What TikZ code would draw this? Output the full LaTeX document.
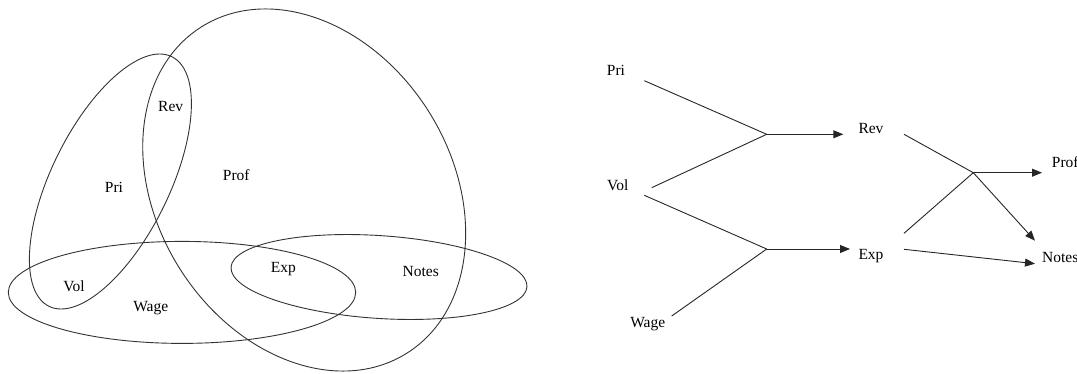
\documentclass[tikz,border=0pt]{standalone}
\usepackage{fontspec}
\setmainfont{Liberation Serif}
\usetikzlibrary{arrows.meta}
\begin{document}
\begin{tikzpicture}[x=1pt,y=1pt,
  lbl/.style={inner sep=0pt,anchor=base,font=\fontsize{15.5}{18}\selectfont},
  lblw/.style={inner sep=0pt,anchor=base west,font=\fontsize{15.5}{18}\selectfont},
  set/.style={draw=black!80,line width=0.9pt},
  conn/.style={draw=black!85,line width=0.9pt},
  arr/.style={conn,-{Triangle[length=10pt,width=8pt]}}]
\useasboundingbox (0,0) rectangle (1077,373);
% ---------- left: Venn-type diagram ----------
\draw[set] (304.2,183) ellipse[x radius=147.2,y radius=192.8,rotate=32.2];
\draw[set] (110.4,191.5) ellipse[x radius=58.9,y radius=139.1,rotate=-26.2];
\draw[set] (182,80.6) ellipse[x radius=173.7,y radius=51];
\draw[set] (379,96) ellipse[x radius=148.3,y radius=41.4,rotate=-3.8];
\node[lbl] (lrev) at (170.7,261.3) {Rev};
\node[lbl] (lpri) at (114,180.2) {Pri};
\node[lbl] (lprof) at (236.3,192.8) {Prof};
\node[lbl] (lvol) at (74,82) {Vol};
\node[lbl] (lwage) at (150.7,62) {Wage};
\node[lbl] (lexp) at (283.3,100.3) {Exp};
\node[lbl] (lnotes) at (420.7,97) {Notes};
% ---------- right: flow diagram ----------
\node[lbl] (pri) at (616,297) {Pri};
\node[lbl] (vol) at (617.7,182.3) {Vol};
\node[lbl] (wage) at (647.7,45.3) {Wage};
\node[lbl] (rev) at (871,239.7) {Rev};
\node[lbl] (exp) at (871,113.7) {Exp};
\node[lblw] (prof) at (1051.7,205.3) {Prof};
\node[lblw] (notes) at (1042,110.5) {Notes};
\coordinate (priE) at (644.3,292.3);
\coordinate (volU) at (651.7,185.3);
\coordinate (volD) at (644.3,177.7);
\coordinate (wageE) at (671.7,57);
\coordinate (j1) at (766.7,238.7);
\coordinate (j2) at (766.7,124);
\coordinate (revT) at (843.3,238.7);
\coordinate (expT) at (850,124);
\coordinate (revO) at (904,238.7);
\coordinate (expU) at (904,139.7);
\coordinate (expO) at (904,123.7);
\coordinate (j3) at (973.3,200.3);
\coordinate (profT) at (1042,200.3);
\coordinate (notesT1) at (1035,132.3);
\coordinate (notesT2) at (1035,109.3);
\draw[conn] (priE) -- (j1);
\draw[conn] (volU) -- (j1);
\draw[arr] (j1) -- (revT);
\draw[conn] (volD) -- (j2);
\draw[conn] (wageE) -- (j2);
\draw[arr] (j2) -- (expT);
\draw[conn] (revO) -- (j3);
\draw[conn] (expU) -- (j3);
\draw[arr] (j3) -- (profT);
\draw[arr] (j3) -- (notesT1);
\draw[arr] (expO) -- (notesT2);
\end{tikzpicture}
\end{document}
